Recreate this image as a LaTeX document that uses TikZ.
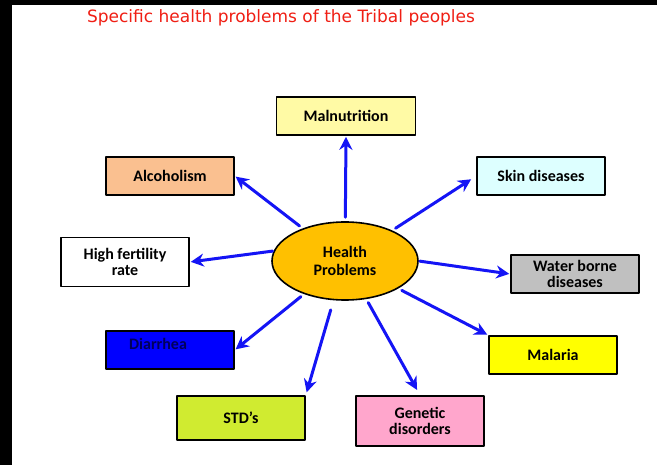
\documentclass[tikz,border=0pt]{standalone}
\usepackage{fontspec}
\usetikzlibrary{shapes.geometric,arrows.meta}
\setmainfont{Carlito}
\newfontfamily\titlefont{DejaVu Sans}
\definecolor{ovalfill}{RGB}{255,192,0}
\definecolor{malfill}{RGB}{255,250,165}
\definecolor{alcfill}{RGB}{250,192,144}
\definecolor{skinfill}{RGB}{221,255,255}
\definecolor{waterfill}{RGB}{192,192,192}
\definecolor{diafill}{RGB}{0,0,255}
\definecolor{diatext}{RGB}{0,0,90}
\definecolor{malariafill}{RGB}{255,255,0}
\definecolor{stdfill}{RGB}{208,235,48}
\definecolor{genfill}{RGB}{255,166,204}
\definecolor{arrowblue}{RGB}{20,20,245}
\definecolor{titlered}{RGB}{240,30,20}
\begin{document}
\begin{tikzpicture}[x=1pt,y=-1pt,line cap=round,line join=round,>={Stealth[length=13pt,width=13pt]},
	box/.style={draw=black,line width=1.6pt,minimum width=128pt,minimum height=38pt,align=center,font=\bfseries\fontsize{16}{16}\selectfont,inner sep=2pt},
	oval/.style={ellipse,draw=black,line width=1.6pt,fill=ovalfill,minimum width=146pt,minimum height=78pt,align=center,font=\bfseries\fontsize{16}{18}\selectfont},
	arr/.style={->,color=arrowblue,line width=3pt,shorten <=4pt,shorten >=1pt}]
	% frame
	\fill[black] (0,0) rectangle (657,465);
	\fill[white] (12,5) rectangle (657,465);
	\useasboundingbox (0,0) rectangle (657,465);
	\node[text=titlered,font=\titlefont\fontsize{17}{18}\selectfont] (title) at (281,18) {Specific health problems of the Tribal peoples};
	% centre
	\node[oval] (hp) at (345,261) {Health\\Problems};
	% boxes
	\node[box,fill=malfill,minimum width=139pt] (mal) at (346,116) {Malnutrition};
	\node[box,fill=alcfill] (alc) at (170,176) {Alcoholism};
	\node[box,fill=skinfill] (skin) at (541,176) {Skin diseases};
	\node[box,fill=white,minimum height=49pt] (hfr) at (125,262) {High fertility\\rate};
	\node[box,fill=waterfill] (wbd) at (575,274) {Water borne\\diseases};
	\node[box,fill=diafill] (dia) at (170,350) {};
	\node[text=diatext,font=\bfseries\fontsize{16}{16}\selectfont] (diatxt) at (158,344) {Diarrhea};
	\node[box,fill=malariafill] (mla) at (553,355) {Malaria};
	\node[box,fill=stdfill,minimum height=44pt] (std) at (241,418) {STD’s};
	\node[box,fill=genfill,minimum height=50pt] (gen) at (420,421) {Genetic\\disorders};
	% arrows
	\draw[arr] (hp) -- (mal.south);
	\draw[arr] (hp) -- (alc.east);
	\draw[arr,shorten >=6pt] (hp) -- (skin.west);
	\draw[arr,shorten <=1pt] (hp.172) -- (hfr.east);
	\draw[arr,shorten <=1pt] (hp.east) -- (wbd.west);
	\draw[arr] (hp) -- (dia.east);
	\draw[arr,shorten <=10pt,shorten >=3pt] (hp) -- (std.north east);
	\draw[arr,shorten <=4pt,shorten >=6pt] (hp) -- (gen.north);
	\draw[arr] (hp) -- (mla.north west);
\end{tikzpicture}
\end{document}
